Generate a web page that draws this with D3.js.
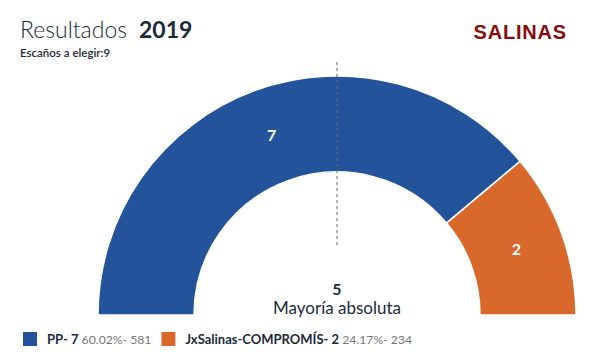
<!DOCTYPE html>
<html>
<head>
<meta charset="utf-8">
<script src="https://cdn.jsdelivr.net/npm/d3@7"></script>
<style>
  body { margin: 0; background: #fff; }
  text { font-family: Lato, "Open Sans", sans-serif; }
</style>
</head>
<body>
<div id="chart"></div>
<script>
// datos
var parties = ["PP", "JxSalinas-COMPROMÍS"];
var seats = [7, 2];
var pcts = ["60.02%", "24.17%"];
var votes = [581, 234];
var colors = ["#23549b", "#d9692a"];
var totalSeats = 9;
var majority = 5;

var width = 593,
  height = 363;

var cx = 337,
  cy = 315,
  rOuter = 239,
  rInner = 143;

var svg = d3
  .select("#chart")
  .append("svg")
  .attr("width", width)
  .attr("height", height);

// cabecera
var title = svg
  .append("text")
  .attr("x", 20)
  .attr("y", 38)
  .style("font-size", "23px")
  .style("fill", "#1b2a3a");
title.append("tspan").style("font-weight", 300).text("Resultados");
title
  .append("tspan")
  .attr("dx", 12)
  .style("font-weight", 700)
  .text("2019");

svg
  .append("text")
  .attr("x", 20)
  .attr("y", 57)
  .style("font-size", "11.5px")
  .style("font-weight", 600)
  .style("fill", "#1b2a3a")
  .text("Escaños a elegir:" + totalSeats);

svg
  .append("text")
  .attr("x", 567)
  .attr("y", 39)
  .attr("text-anchor", "end")
  .style("font-family", "'Liberation Sans', Arial, sans-serif")
  .style("font-size", "20px")
  .style("font-weight", 700)
  .style("letter-spacing", "0.8px")
  .style("fill", "#8b0a0a")
  .text("SALINAS");

// hemiciclo
var pie = d3
  .pie()
  .sort(null)
  .startAngle(-Math.PI / 2)
  .endAngle(Math.PI / 2);

var arc = d3.arc().innerRadius(rInner).outerRadius(rOuter);

var g = svg.append("g").attr("transform", "translate(" + cx + "," + cy + ")");

var arcs = pie(seats);

g.selectAll("path")
  .data(arcs)
  .enter()
  .append("path")
  .attr("d", arc)
  .attr("fill", function(d, i) {
    return colors[i];
  })
  .attr("stroke", "#fff")
  .attr("stroke-width", 1.5);

g.selectAll(".seatlabel")
  .data(arcs)
  .enter()
  .append("text")
  .attr("class", "seatlabel")
  .attr("transform", function(d) {
    return "translate(" + arc.centroid(d) + ")";
  })
  .attr("text-anchor", "middle")
  .attr("dy", "0.36em")
  .style("font-size", "16px")
  .style("font-weight", 700)
  .style("fill", "#fff")
  .text(function(d) {
    return d.data;
  });

// linea de mayoria
g.append("line")
  .attr("x1", 0)
  .attr("x2", 0)
  .attr("y1", 62 - cy)
  .attr("y2", 245 - cy)
  .attr("stroke", "#666")
  .attr("stroke-width", 1)
  .attr("stroke-dasharray", "3,3");

g.append("text")
  .attr("x", 0)
  .attr("y", 295 - cy)
  .attr("text-anchor", "middle")
  .style("font-size", "16px")
  .style("font-weight", 700)
  .style("fill", "#1b2a3a")
  .text(majority);

g.append("text")
  .attr("x", 0)
  .attr("y", 314 - cy)
  .attr("text-anchor", "middle")
  .style("font-size", "17px")
  .style("fill", "#1b2a3a")
  .text("Mayoría absoluta");

// leyenda
var lx = 23;
parties.forEach(function(p, i) {
  var item = svg.append("g").attr("transform", "translate(" + lx + ",332)");
  item
    .append("rect")
    .attr("width", 14)
    .attr("height", 14)
    .attr("fill", colors[i]);
  var t = item
    .append("text")
    .attr("x", 24)
    .attr("y", 12)
    .style("font-size", "13px");
  t.append("tspan")
    .style("font-weight", 700)
    .style("fill", "#1b2a3a")
    .text(p + "- " + seats[i]);
  t.append("tspan")
    .style("fill", "#777")
    .style("font-size", "12.2px")
    .text(" " + pcts[i] + "- " + votes[i]);
  lx += 24 + t.node().getComputedTextLength() + 10;
});
</script>
</body>
</html>
